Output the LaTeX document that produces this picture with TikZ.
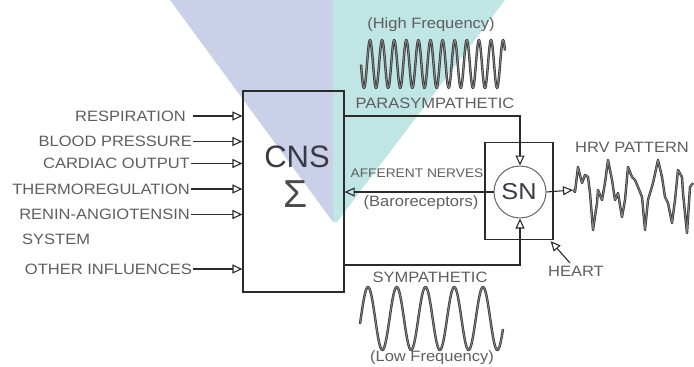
\documentclass[tikz,border=0pt]{standalone}
\usepackage{fontspec}
\setmainfont{Liberation Sans}
\newfontfamily\lab[FakeStretch=1.1]{Liberation Sans}
\usetikzlibrary{arrows.meta}
\definecolor{bluev}{HTML}{C9D0E7}
\definecolor{tealv}{HTML}{BFE5E5}
\definecolor{labc}{HTML}{5E5E5E}
\definecolor{darkc}{HTML}{3A3A44}
\definecolor{linec}{HTML}{2B2B2B}
\begin{document}
\begin{tikzpicture}[x=1pt,y=-1pt,
  lbl/.style={font=\lab\fontsize{15}{17}\selectfont, text=labc, inner sep=0pt},
  smalllbl/.style={font=\lab\fontsize{12.5}{14}\selectfont, text=labc, inner sep=0pt},
  conn/.style={draw=linec, line width=1.1pt},
  arr/.style={conn, -{Triangle[open,length=10pt,width=9pt,line width=1.1pt]}},
  boxc/.style={draw=linec, line width=1.2pt, inner sep=0pt},
  wave/.style={draw=black!80, line width=0.7pt, double=black!50, double distance=1pt, line join=round}]
\useasboundingbox (0,0) rectangle (694,367);
% background watermark
\fill[bluev] (170,0) -- (333,0) -- (333,222) -- cycle;
\fill[tealv] (333,0) -- (505,0) -- (337,222) -- (333,222) -- cycle;

% CNS box
\node[boxc, minimum width=101pt, minimum height=201pt] (cns) at (293.5,191.5) {};
\node[font=\fontsize{31}{33}\selectfont, text=darkc, inner sep=0pt] (cnst) at (297,157) {CNS};
\node[font=\fontsize{39}{40}\selectfont, text=labc!80!black, inner sep=0pt] (sig) at (296,194) {\char"03A3};

% inputs
\node[lbl, anchor=east] (i1) at (186,116) {RESPIRATION};
\node[lbl, anchor=east] (i2) at (192,141.5) {BLOOD PRESSURE};
\node[lbl, anchor=east] (i3) at (190,163.5) {CARDIAC OUTPUT};
\node[lbl, anchor=east] (i4) at (190,189) {THERMOREGULATION};
\node[lbl, anchor=east] (i5) at (190,214.5) {RENIN-ANGIOTENSIN};
\node[lbl, anchor=west] (i5b) at (22,239.5) {SYSTEM};
\node[lbl, anchor=east] (i6) at (192,269) {OTHER INFLUENCES};
\foreach \n/\g in {i1/7,i2/1,i3/1,i4/1,i5/1,i6/1}{
  \draw[arr] ([xshift=\g pt]\n.east) -- (\n.east -| cns.west);
}

% SN
\node[boxc, minimum width=68pt, minimum height=97pt] (snbox) at (519,191) {};
\node[draw=black!60, line width=1pt, circle, minimum size=52pt, inner sep=0pt] (sn) at (520,192) {};
\node[font=\lab\fontsize{23}{25}\selectfont, text=darkc, inner sep=0pt] (snt) at (519,192) {SN};

% parasympathetic
\coordinate (pc) at (520,116);
\draw[arr] (cns.east |- pc) -- (pc) -- (sn.north);
\node[lbl] (para) at (435,103) {PARASYMPATHETIC};
\node[lbl] (hf) at (431,25) {(High Frequency)};
\draw[wave] plot[domain=361:505, samples=240] (\x, {64 - 24*sin((\x-367)*29.752)});

% afferent
\draw[arr] (sn.west) -- (sn.west -| cns.east);
\node[smalllbl] (aff) at (417,173) {AFFERENT NERVES};
\node[lbl] (baro) at (421,203) {(Baroreceptors)};

% sympathetic
\coordinate (sc) at (520,265);
\draw[arr] (cns.east |- sc) -- (sc) -- (sn.south);
\node[lbl] (symp) at (430,277) {SYMPATHETIC};
\node[lbl] (lf) at (432,358) {(Low Frequency)};
\draw[wave] plot[domain=360:503, samples=200] (\x, {318.5 - 31.5*sin((\x-360.8)*12.522)});

% output HRV
\coordinate (hrv) at (573,190);
\draw[arr] (sn.east) -- (hrv);
\node[lbl] (hrvl) at (632,147) {HRV PATTERN};
\draw[wave] (hrv) -- (575,192) -- (578,167) -- (582,183) -- (585,175) -- (588,177) -- (590,193)
  -- (593,230) -- (597,203) -- (598,190) -- (602,200) -- (605,183) -- (608,160) -- (612,180)
  -- (615,200) -- (618,193) -- (622,217) -- (625,200) -- (628,167) -- (632,177) -- (635,180)
  -- (638,187) -- (642,197) -- (645,230) -- (648,200) -- (653,183) -- (658,160) -- (662,177)
  -- (665,197) -- (668,203) -- (672,223) -- (675,200) -- (678,170) -- (682,177) -- (683,193)
  -- (687,233) -- (690,187) -- (693,183);

% heart
\node[lbl] (heart) at (576,271) {HEART};
\coordinate (hs) at (570,263);
\draw[arr] (hs) -- ([shift={(-3,1)}]snbox.south east);
\end{tikzpicture}
\end{document}
